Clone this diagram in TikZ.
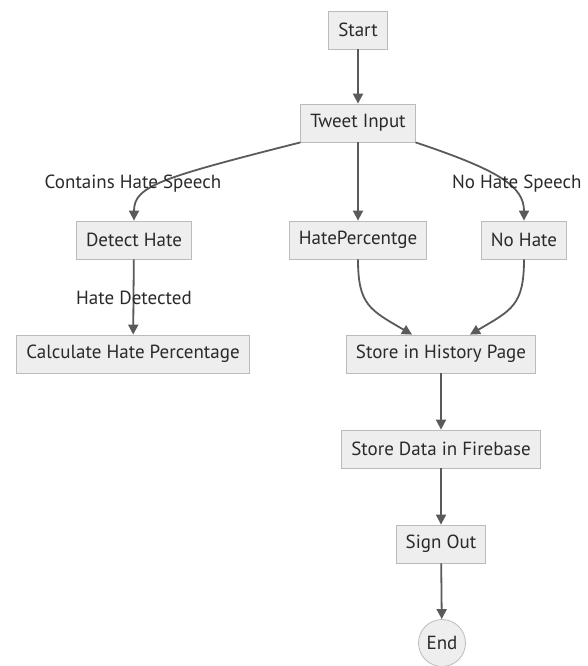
\documentclass[tikz,border=0pt]{standalone}
\usepackage{fontspec}
\setmainfont{PT Sans}
\usetikzlibrary{arrows.meta, positioning}
\definecolor{boxF}{HTML}{EEEEEE}
\definecolor{boxD}{HTML}{BBBBBB}
\definecolor{lineG}{HTML}{5A5A5A}
\definecolor{textG}{HTML}{2A2A2A}

\begin{document}
\begin{tikzpicture}[
  x=1pt, y=-1pt,
  stepbox/.style={
    fill=boxF, draw=boxD,
    font=\fontsize{19}{22}\selectfont, text=textG,
    minimum height=38pt, inner xsep=9.5pt,
    line width=0.8pt
  },
  endbox/.style={
    circle, fill=boxF, draw=boxD,
    font=\fontsize{19}{22}\selectfont, text=textG,
    minimum size=47pt, inner sep=0pt,
    line width=0.8pt
  },
  lbl/.style={font=\fontsize{19}{22}\selectfont, text=textG},
  arr/.style={-{Triangle[length=10pt, width=10pt]}, line width=1.8pt, lineG}
]
\useasboundingbox (0,0) rectangle (587,666);

%% --- top ---
\node[stepbox] (start) at (358,30) {Start};
\node[stepbox] (tweet) at (358,123) {Tweet Input};
\draw[arr] (start) -- (tweet);

%% --- branches ---
\node[stepbox] (detect) at (134,240) {Detect Hate};
\node[stepbox] (hateper) at (358,240) {HatePercentge};
\node[stepbox] (nohate) at (524,240) {No Hate};

\draw[arr] (tweet.south west) .. controls (160,178) and (134,186) .. (detect.north);
\draw[arr] (tweet) -- (hateper);
\draw[arr] (tweet.south east) .. controls (498,170) and (524,186) .. (nohate.north);

\node[lbl] (lcontains) at (133,184) {Contains Hate Speech};
\node[lbl, anchor=east] (lnohate) at (585,184) {No Hate Speech};

%% --- left column ---
\node[stepbox] (calc) at (133,354) {Calculate Hate Percentage};
\draw[arr] (detect) -- (calc);
\node[lbl] (ldetected) at (134,298) {Hate Detected};

%% --- right column ---
\node[stepbox] (history) at (441,354) {Store in History Page};
\draw[arr] (hateper.south) .. controls (358,305) and (370,310) .. (history.north -| 412,0);
\draw[arr] (nohate.south) .. controls (524,305) and (512,310) .. (history.north -| 470,0);

\node[stepbox] (fire) at (441,449) {Store Data in Firebase};
\draw[arr] (history) -- (fire);

\node[stepbox] (signout) at (441,544) {Sign Out};
\draw[arr] (fire) -- (signout);

\node[endbox] (end) at (442,643) {End};
\draw[arr] (signout) -- (end);

\end{tikzpicture}
\end{document}
